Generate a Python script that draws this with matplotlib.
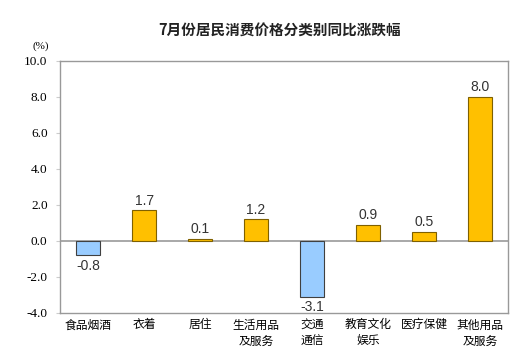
import matplotlib.pyplot as plt

plt.rcParams['font.family'] = ['Noto Sans CJK SC', 'DejaVu Sans']

categories = ['食品烟酒', '衣着', '居住', '生活用品\n及服务', '交通\n通信', '教育文化\n娱乐', '医疗保健', '其他用品\n及服务']
values = [-0.8, 1.7, 0.1, 1.2, -3.1, 0.9, 0.5, 8.0]
yticks = [-4.0, -2.0, 0.0, 2.0, 4.0, 6.0, 8.0, 10.0]

fig = plt.figure(figsize=(5.27, 3.58), dpi=100)
ax = fig.add_axes([0.114, 0.126, 0.850, 0.704])

colors = ['#99CCFF' if v < 0 else '#FFC000' for v in values]
edges = ['#404040' if v < 0 else '#7F6000' for v in values]
x = range(len(values))
ax.bar(x, values, width=0.43, color=colors, edgecolor=edges, linewidth=0.8, zorder=3)
ax.axhline(0, color='#999999', linewidth=1.2, zorder=2)

# 数据标签
for i, v in enumerate(values):
    if v < 0:
        ax.text(i, v - 0.2, f'{v:.1f}', ha='center', va='top', fontsize=10,
                family=['Liberation Sans'], color='#333333')
    else:
        ax.text(i, v + 0.15, f'{v:.1f}', ha='center', va='bottom', fontsize=10,
                family=['Liberation Sans'], color='#333333')

ax.set_xlim(-0.5, len(values) - 0.5)
ax.set_ylim(-4, 10)
ax.set_yticks(yticks)
ax.set_yticklabels([f'{t:.1f}' for t in yticks], family=['Liberation Serif'], fontsize=9.5)
ax.set_xticks(list(x))
ax.set_xticklabels(categories, fontsize=8.5, linespacing=1.3)
ax.tick_params(axis='x', length=0, pad=4)
ax.tick_params(axis='y', length=3, color='#cccccc', pad=6)
for s in ax.spines.values():
    s.set_color('#999999')
    s.set_linewidth(1.0)

fig.text(0.53, 0.915, '7月份居民消费价格分类别同比涨跌幅', ha='center', va='center',
         fontsize=10.5, fontweight='bold', color='#222222')
fig.text(0.078, 0.872, '(%)', ha='center', va='center', fontsize=8,
         family=['Liberation Serif'])

fig.savefig('out.png', dpi=100)
